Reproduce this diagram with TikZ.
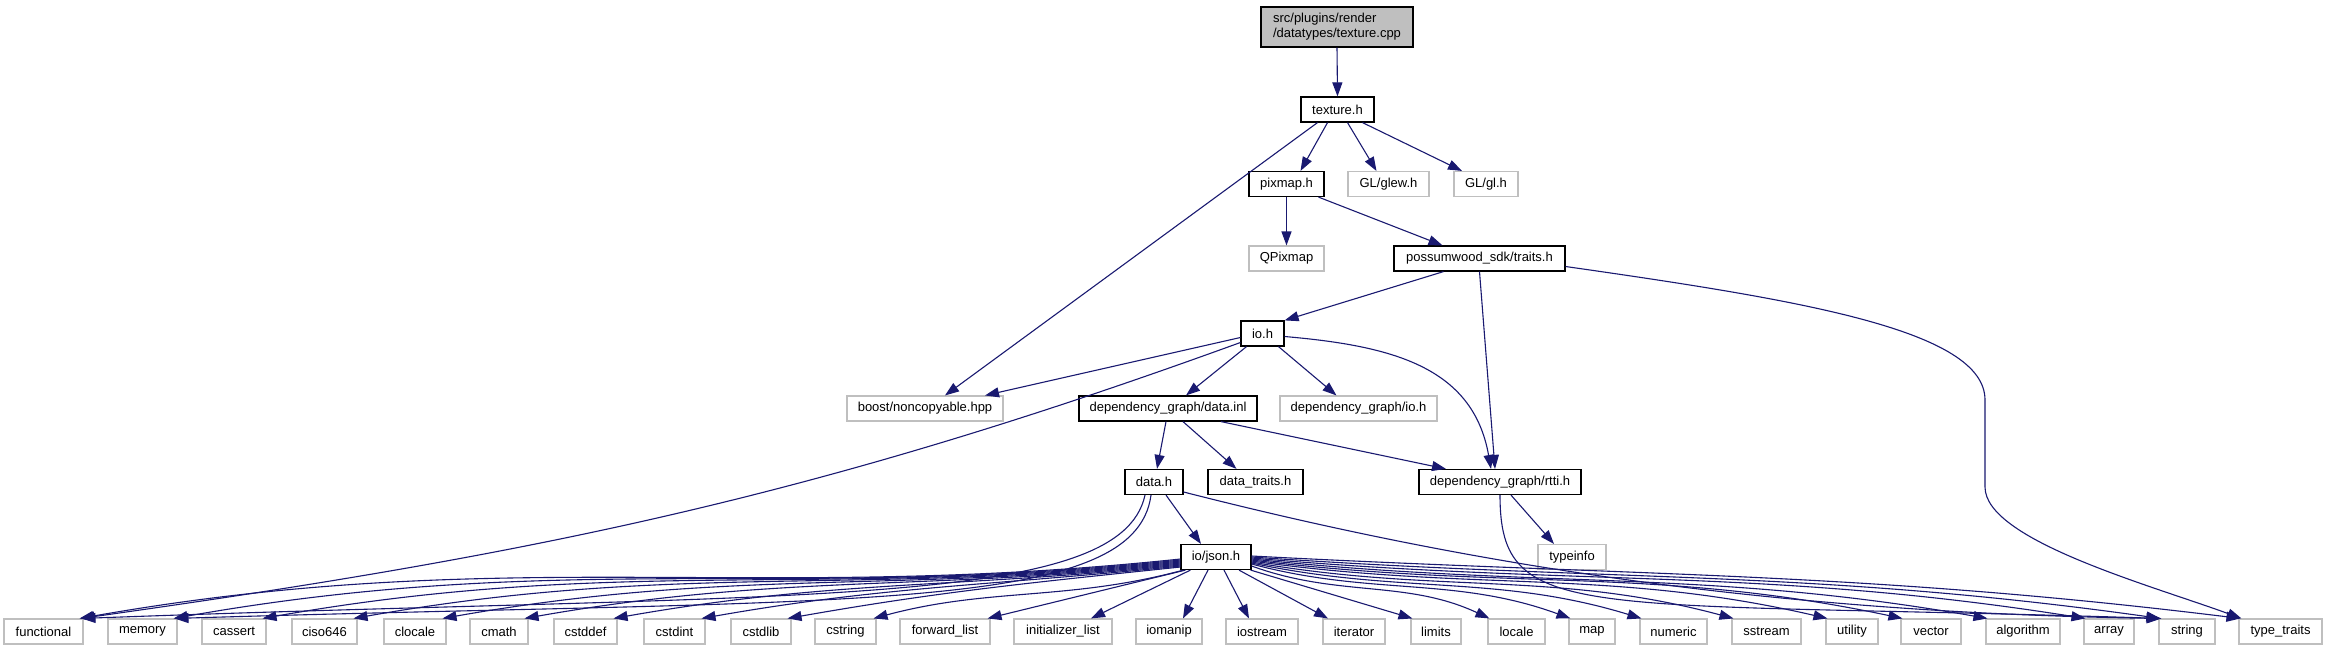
\documentclass[tikz,border=0pt]{standalone}
\usepackage{fontspec}
\setmainfont{Liberation Sans}
\usetikzlibrary{arrows.meta,calc}
\definecolor{edgeblue}{HTML}{191970}
\definecolor{boxgray}{HTML}{BFBFBF}
\tikzset{
  hb/.style={draw=black, line width=1.2pt, fill=white, minimum height=25pt, inner sep=0pt, font=\fontsize{13}{15}\selectfont},
  gb/.style={draw=boxgray, line width=1.1pt, fill=white, minimum height=25pt, inner sep=0pt, font=\fontsize{13}{15}\selectfont},
  dep/.style={draw=edgeblue, line width=1.1pt, -{Triangle[length=14pt,width=10pt]}}
}
\begin{document}
\begin{tikzpicture}[x=1pt,y=1pt]
\useasboundingbox (0,0) rectangle (2327,-651);
% nodes
\node[hb, fill=boxgray, minimum width=152pt, minimum height=40pt, align=left] (root) at (1337,-27) {src/plugins/render\\/datatypes/texture.cpp};
\node[hb, minimum width=73pt] (th) at (1337.5,-109.5) {texture.h};
\node[hb, minimum width=75pt] (pm) at (1286.5,-184) {pixmap.h};
\node[gb, minimum width=81pt] (glew) at (1388.5,-184) {GL/glew.h};
\node[gb, minimum width=64pt] (gl) at (1486,-184) {GL/gl.h};
\node[gb, minimum width=75pt] (qp) at (1286.5,-258.5) {QPixmap};
\node[hb, minimum width=171pt] (tr) at (1479.5,-258.5) {possumwood\_sdk/traits.h};
\node[hb, minimum width=43pt] (io) at (1262.5,-333.5) {io.h};
\node[gb, minimum width=156pt] (boost) at (925,-408.5) {boost/noncopyable.hpp};
\node[hb, minimum width=178pt] (dinl) at (1168,-408.5) {dependency\_graph/data.inl};
\node[gb, minimum width=157pt] (dgio) at (1358.5,-408.5) {dependency\_graph/io.h};
\node[hb, minimum width=58pt] (dh) at (1154,-482) {data.h};
\node[hb, minimum width=95pt] (dtr) at (1255.5,-482) {data\_traits.h};
\node[hb, minimum width=162pt] (rtti) at (1500,-482) {dependency\_graph/rtti.h};
\node[hb, minimum width=70pt] (js) at (1216,-557) {io/json.h};
\node[gb, minimum width=68pt] (ti) at (1572,-557) {typeinfo};
% bottom row
\node[gb, minimum width=79pt] (fun) at (43.5,-631.5) {functional};
\node[gb, minimum width=69pt] (mem) at (142.5,-631.5) {memory};
\node[gb, minimum width=64pt] (cas) at (234,-631.5) {cassert};
\node[gb, minimum width=65pt] (cis) at (324.5,-631.5) {ciso646};
\node[gb, minimum width=62pt] (clo) at (415,-631.5) {clocale};
\node[gb, minimum width=58pt] (cma) at (499,-631.5) {cmath};
\node[gb, minimum width=63pt] (csd) at (585.5,-631.5) {cstddef};
\node[gb, minimum width=61pt] (csi) at (674.5,-631.5) {cstdint};
\node[gb, minimum width=60pt] (csl) at (761,-631.5) {cstdlib};
\node[gb, minimum width=61pt] (cst) at (845.5,-631.5) {cstring};
\node[gb, minimum width=90pt] (fwl) at (945,-631.5) {forward\_list};
\node[gb, minimum width=98pt] (inl) at (1063,-631.5) {initializer\_list};
\node[gb, minimum width=66pt] (iom) at (1169,-631.5) {iomanip};
\node[gb, minimum width=72pt] (ios) at (1262,-631.5) {iostream};
\node[gb, minimum width=62pt] (itr) at (1354,-631.5) {iterator};
\node[gb, minimum width=50pt] (lim) at (1436,-631.5) {limits};
\node[gb, minimum width=57pt] (loc) at (1516.5,-631.5) {locale};
\node[gb, minimum width=46pt] (map) at (1592,-631.5) {map};
\node[gb, minimum width=67pt] (num) at (1673.5,-631.5) {numeric};
\node[gb, minimum width=69pt] (sst) at (1766.5,-631.5) {sstream};
\node[gb, minimum width=52pt] (uti) at (1852,-631.5) {utility};
\node[gb, minimum width=60pt] (vec) at (1931,-631.5) {vector};
\node[gb, minimum width=74pt] (alg) at (2023,-631.5) {algorithm};
\node[gb, minimum width=50pt] (arr) at (2109,-631.5) {array};
\node[gb, minimum width=56pt] (str) at (2187,-631.5) {string};
\node[gb, minimum width=83pt] (tt) at (2280.5,-631.5) {type\_traits};
% edges upper part
\draw[dep] (root.south) -- (th.north);
\draw[dep] ([xshift=-20pt]th.south) -- ([xshift=20pt]boost.north);
\draw[dep] ([xshift=-10pt]th.south) -- ([xshift=14pt]pm.north);
\draw[dep] ([xshift=10pt]th.south) -- ([xshift=-12pt]glew.north);
\draw[dep] ([xshift=25pt]th.south) -- ([xshift=-24pt]gl.north);
\draw[dep] (pm.south) -- (qp.north);
\draw[dep] ([xshift=32pt]pm.south) -- ([xshift=-37pt]tr.north);
\draw[dep] ([xshift=-36pt]tr.south) -- (io.north east);
\draw[dep] (tr.south) -- ([xshift=-5pt]rtti.north);
\draw[dep] ([yshift=-8pt]tr.east) .. controls (1800,-300) and (1985,-330) .. (1985,-400) -- (1985,-487) .. controls (1985,-540) and (2150,-585) .. ([xshift=3pt]tt.north west);
\draw[dep] ([yshift=-4pt]io.west) -- ([xshift=60pt]boost.north);
\draw[dep] ($(io.west)+(0,-9)$) .. controls ($(io.west)+(0,-9)+(200:455pt)$) and ($(fun.north east)+(-3,0)+(8:455pt)$) .. ($(fun.north east)+(-3,0)$);
\draw[dep] ([xshift=-16pt]io.south) -- ([xshift=18pt]dinl.north);
\draw[dep] ([xshift=16pt]io.south) -- ([xshift=-22pt]dgio.north);
\draw[dep] ($(io.east)+(0,-3)$) .. controls ($(io.east)+(0,-3)+(-5:105pt)$) and ($(rtti.north)+(-9,0)+(100:105pt)$) .. ($(rtti.north)+(-9,0)$);
\draw[dep] ([xshift=-2pt]dinl.south) -- ([xshift=3pt]dh.north);
\draw[dep] ([xshift=15pt]dinl.south) -- ([xshift=-19pt]dtr.north);
\draw[dep] ([xshift=53pt]dinl.south) -- ([xshift=-54pt]rtti.north);
\draw[dep] ([xshift=12pt]dh.south) -- ([xshift=-15pt]js.north);
\draw[dep] ([xshift=-9pt]dh.south) .. controls (1120,-610) and (800,-592) .. ([xshift=-2pt]fun.north east);
\draw[dep] ([xshift=-3pt]dh.south) .. controls (1135,-615) and (850,-598) .. ([xshift=-3pt]mem.north east);
\draw[dep] ($(dh.east)+(0,-10)$) .. controls (1450,-560) and (1750,-612) .. ($(str.north west)+(2,0)$);
\draw[dep] ([xshift=11pt]rtti.south) -- ([xshift=-18pt]ti.north);
\draw[dep] (rtti.south) .. controls (1500,-625) and (1580,-600) .. ([xshift=3pt]str.north west);
% json fan, left group
\foreach \t/\s/\L in {fun/-2/430,mem/-3/395,cas/-4/360,cis/-5/325,clo/-6/290,cma/-7/257,csd/-8/223,csi/-9/188,csl/-10/154}
  \draw[dep] ($(js.west)+(0,\s)$) .. controls ($(js.west)+(0,\s)+(186:\L pt)$) and ($(\t.north east)+(-4,0)+(10:\L pt)$) .. ($(\t.north east)+(-4,0)$);
\draw[dep] ($(js.south west)+(3,0)$) .. controls ($(js.south west)+(3,0)+(195:120pt)$) and ($(cst.north east)+(-3,0)+(15:120pt)$) .. ($(cst.north east)+(-3,0)$);
\draw[dep] ([xshift=5pt]js.south west) -- ([xshift=-3pt]fwl.north east);
\draw[dep] ([xshift=10pt]js.south west) -- ([xshift=28pt]inl.north);
\draw[dep] ([xshift=-8pt]js.south) -- ([xshift=14pt]iom.north);
\draw[dep] ([xshift=8pt]js.south) -- ([xshift=-13pt]ios.north);
\draw[dep] ([xshift=23pt]js.south) -- ([xshift=-26pt]itr.north);
\draw[dep] ([xshift=-1pt]js.south east) -- ([xshift=2pt]lim.north west);
% json fan, right group
\foreach \t/\s/\o/\i/\L in {loc/-9/-20/155/92,map/-7/-15/160/124,num/-6/-12/163/152,sst/-5/-10/165/188,uti/-4/-8/167/224,vec/-3/-7/168/254,alg/-2/-6/170/287,arr/-1/-5/171/325,str/0/-4/172/354,tt/1/-3/173/385}
  \draw[dep] ($(js.east)+(0,\s)$) .. controls ($(js.east)+(0,\s)+(\o:\L pt)$) and ($(\t.north west)+(2,0)+(\i:\L pt)$) .. ($(\t.north west)+(2,0)$);
\end{tikzpicture}
\end{document}
